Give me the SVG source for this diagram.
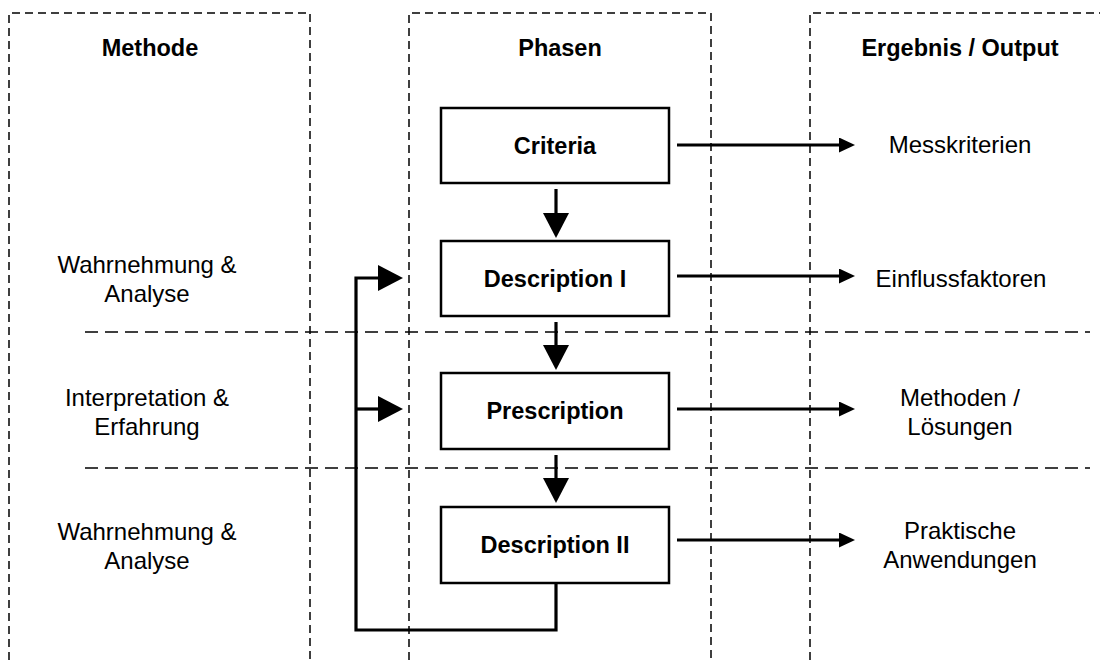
<svg xmlns="http://www.w3.org/2000/svg" width="1100" height="660" viewBox="0 0 1100 660">
  <style>
    text { font-family: "Liberation Sans", Arial, Helvetica, sans-serif; fill: #000; text-anchor: middle; }
    .head { font-size: 23.5px; font-weight: bold; }
    .box-label { font-size: 23.5px; font-weight: bold; }
    .lbl { font-size: 24px; }
    .col { fill: none; stroke: #000; stroke-width: 1.5; stroke-dasharray: 8 5; }
    .lane { fill: none; stroke: #000; stroke-width: 1.5; stroke-dasharray: 13 7; }
    .box { fill: #fff; stroke: #000; stroke-width: 2.5; }
    .conn { fill: none; stroke: #000; stroke-width: 3.2; }
  </style>
  <defs>
    <marker id="bigHead" markerUnits="userSpaceOnUse" markerWidth="25" markerHeight="26" refX="5" refY="13" orient="auto">
      <path d="M0,0 L25,13 L0,26 z" fill="#000"/>
    </marker>
    <marker id="smallHead" markerUnits="userSpaceOnUse" markerWidth="16" markerHeight="15" refX="6" refY="7.5" orient="auto">
      <path d="M0,0 L16,7.5 L0,15 z" fill="#000"/>
    </marker>
  </defs>

  <!-- column frames (open at the bottom) -->
  <g id="columns">
    <path class="col" d="M9,660 V13 H310 V660"/>
    <path class="col" d="M409,660 V13 H711 V660"/>
    <path class="col" d="M810,660 V13 H1100"/>
    <text class="head" x="150" y="56">Methode</text>
    <text class="head" x="560" y="56">Phasen</text>
    <text class="head" x="960" y="56">Ergebnis / Output</text>
  </g>

  <!-- lane dividers -->
  <g id="lanes">
    <line class="lane" x1="85" y1="332" x2="1090" y2="332"/>
    <line class="lane" x1="85" y1="468" x2="1090" y2="468"/>
  </g>

  <!-- method labels -->
  <g id="method-1">
    <text class="lbl" x="147" y="273">Wahrnehmung &amp;</text>
    <text class="lbl" x="147" y="302">Analyse</text>
  </g>
  <g id="method-2">
    <text class="lbl" x="147" y="406">Interpretation &amp;</text>
    <text class="lbl" x="147" y="435">Erfahrung</text>
  </g>
  <g id="method-3">
    <text class="lbl" x="147" y="540">Wahrnehmung &amp;</text>
    <text class="lbl" x="147" y="569">Analyse</text>
  </g>

  <!-- connectors -->
  <g id="connectors">
    <line class="conn" x1="556" y1="189" x2="556" y2="218" marker-end="url(#bigHead)"/>
    <line class="conn" x1="556" y1="322" x2="556" y2="350" marker-end="url(#bigHead)"/>
    <line class="conn" x1="556" y1="455" x2="556" y2="483" marker-end="url(#bigHead)"/>
    <polyline class="conn" points="556,583 556,630 356,630 356,278 383,278" marker-end="url(#bigHead)"/>
    <line class="conn" x1="356" y1="409" x2="383" y2="409" marker-end="url(#bigHead)"/>
    <line class="conn" x1="677" y1="145" x2="845" y2="145" marker-end="url(#smallHead)"/>
    <line class="conn" x1="677" y1="276" x2="845" y2="276" marker-end="url(#smallHead)"/>
    <line class="conn" x1="677" y1="409" x2="845" y2="409" marker-end="url(#smallHead)"/>
    <line class="conn" x1="677" y1="540" x2="845" y2="540" marker-end="url(#smallHead)"/>
  </g>

  <!-- phase boxes -->
  <g id="criteria">
    <rect class="box" x="441" y="108" width="228" height="75"/>
    <text class="box-label" x="555" y="154">Criteria</text>
  </g>
  <g id="description-1">
    <rect class="box" x="441" y="241" width="228" height="75"/>
    <text class="box-label" x="555" y="287">Description I</text>
  </g>
  <g id="prescription">
    <rect class="box" x="441" y="373" width="228" height="76"/>
    <text class="box-label" x="555" y="419">Prescription</text>
  </g>
  <g id="description-2">
    <rect class="box" x="441" y="507" width="228" height="76"/>
    <text class="box-label" x="555" y="553">Description II</text>
  </g>

  <!-- outputs -->
  <g id="out-1">
    <text class="lbl" x="960" y="153">Messkriterien</text>
  </g>
  <g id="out-2">
    <text class="lbl" x="961" y="287">Einflussfaktoren</text>
  </g>
  <g id="out-3">
    <text class="lbl" x="960" y="406">Methoden /</text>
    <text class="lbl" x="960" y="435">Lösungen</text>
  </g>
  <g id="out-4">
    <text class="lbl" x="960" y="539">Praktische</text>
    <text class="lbl" x="960" y="568">Anwendungen</text>
  </g>
</svg>
